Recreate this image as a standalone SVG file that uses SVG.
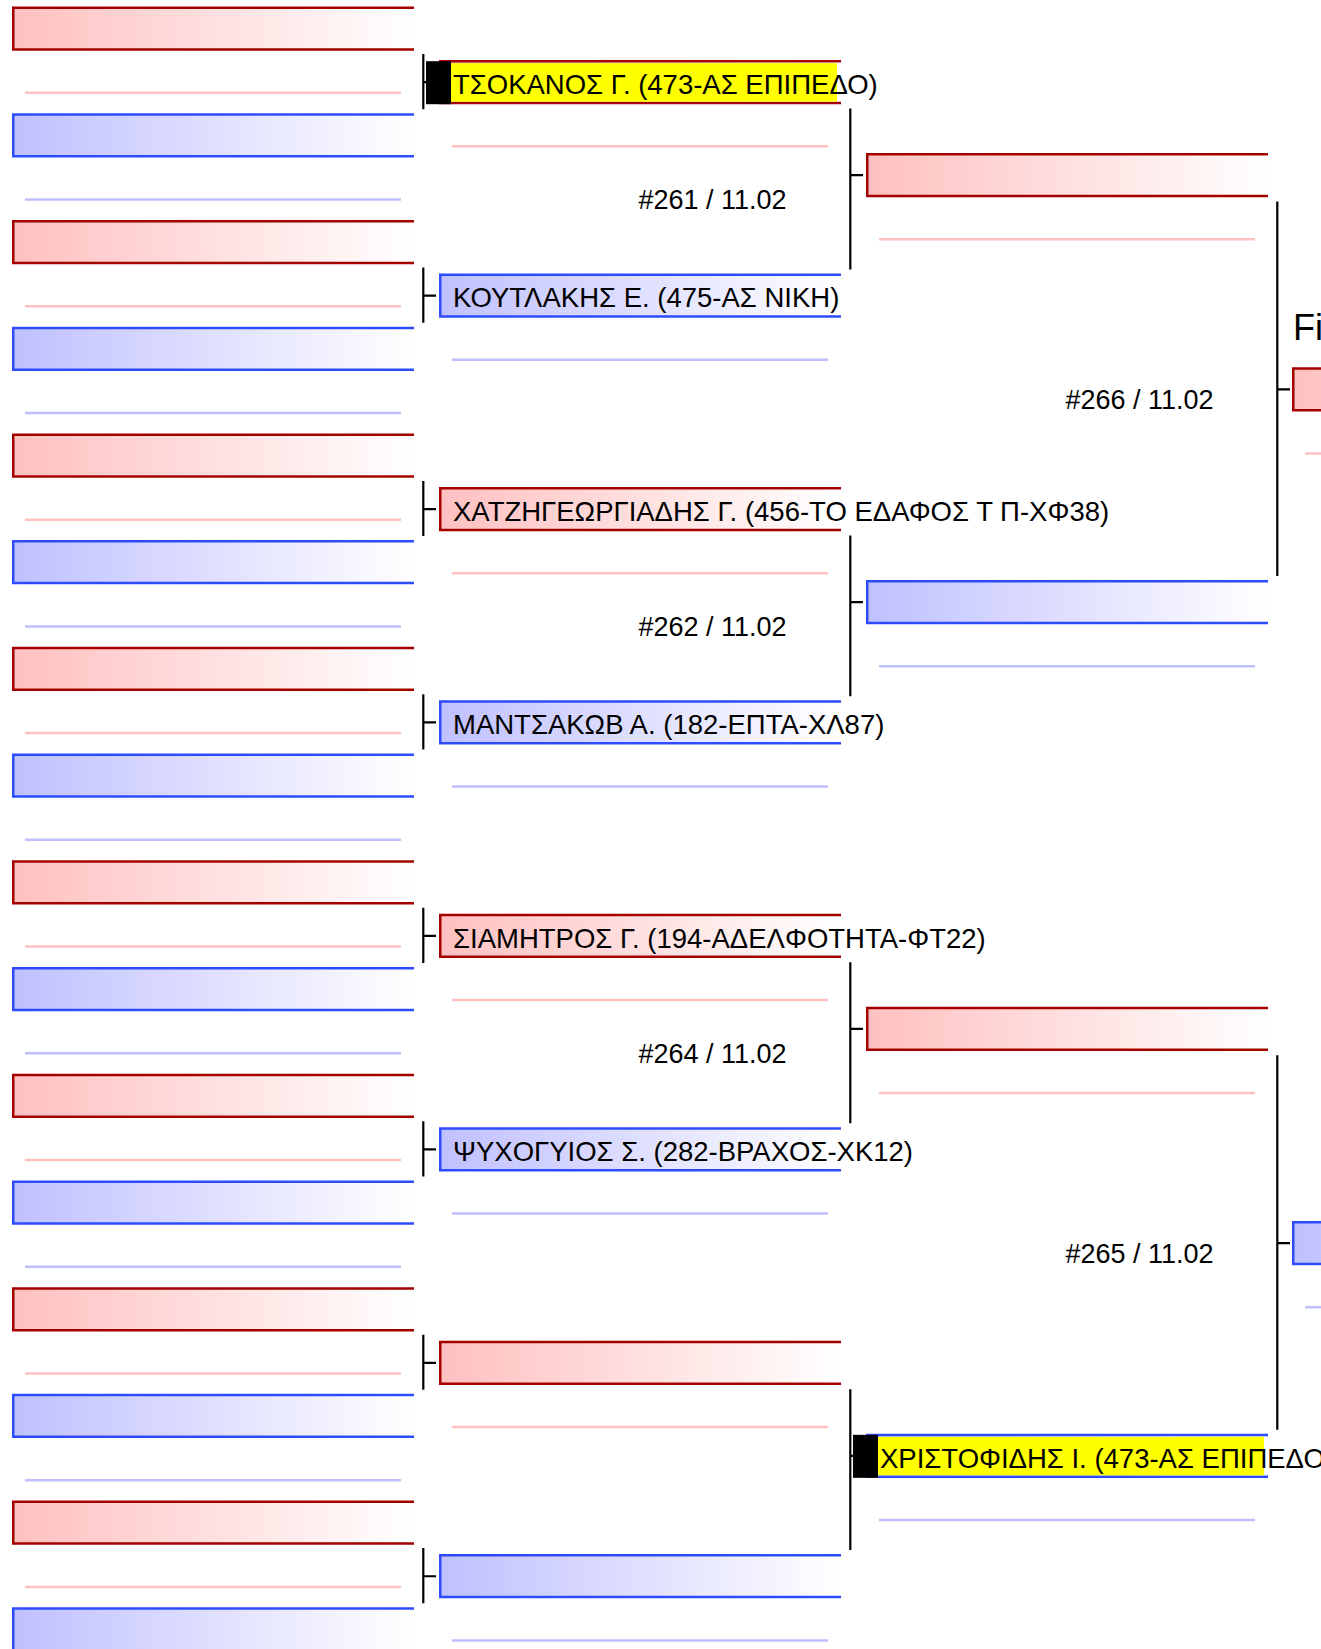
<svg xmlns="http://www.w3.org/2000/svg" xmlns:xlink="http://www.w3.org/1999/xlink" width="1321" height="1649" viewBox="0 0 1321 1649">
<defs>
<linearGradient id="gr" x1="0" y1="0" x2="1" y2="0"><stop offset="0" stop-color="#ffc0c0"/><stop offset="1" stop-color="#ffffff"/></linearGradient>
<linearGradient id="gb" x1="0" y1="0" x2="1" y2="0"><stop offset="0" stop-color="#c0c0ff"/><stop offset="1" stop-color="#ffffff"/></linearGradient>
</defs>
<style>
.r{fill:url(#gr);stroke:#a40000;stroke-width:2.5}
.b{fill:url(#gb);stroke:#2e4cff;stroke-width:2.5}
.lr{stroke:#ffc0c0;stroke-width:2.5}
.lb{stroke:#c0c0ff;stroke-width:2.5}
.t{font-family:"Liberation Sans",Arial,sans-serif;font-size:27.5px;fill:#000}
.lbl{font-family:"Liberation Sans",Arial,sans-serif;font-size:27px;fill:#000}
.c{stroke:#000;stroke-width:2.2;fill:none}
.y{fill:#ffff00}
.k{fill:#000}
</style>
<rect width="1321" height="1649" fill="#fff"/>
<g id="connectors">
<path class="c" d="M423.3,54V109.22M423.3,82.15H436M423.3,267.44V322.66M423.3,295.59H436M423.3,480.88V536.1M423.3,509.03H436M423.3,694.32V749.54M423.3,722.47H436M423.3,907.76V962.98M423.3,935.91H436M423.3,1121.2V1176.42M423.3,1149.35H436M423.3,1334.64V1389.86M423.3,1362.79H436M423.3,1548.08V1603.3M423.3,1576.23H436"/>
<path class="c" d="M850.3,108.5V269.44M850.3,175.15H863M850.3,535.38V696.32M850.3,602.03H863M850.3,962.26V1123.2M850.3,1028.91H863M850.3,1389.14V1550.08M850.3,1455.79H863"/>
<path class="c" d="M1277.3,201.5V575.88M1277.3,389.45H1290M1277.3,1055.26V1429.64M1277.3,1243.21H1290"/>
<text class="lbl" x="638.5" y="209.3">#261 / 11.02</text>
<text class="lbl" x="638.5" y="636.2">#262 / 11.02</text>
<text class="lbl" x="638.5" y="1063">#264 / 11.02</text>
<text class="lbl" x="1065.5" y="409.3">#266 / 11.02</text>
<text class="lbl" x="1065.5" y="1263.1">#265 / 11.02</text>
</g>
<!-- column 1 -->
<g id="r1-0" transform="translate(12,6.5)"><path class="r" d="M402,1.25H1.25V43H402"/><line class="lr" x1="13" y1="86.3" x2="389" y2="86.3"/></g>
<g id="r1-1" transform="translate(12,113.22)"><path class="b" d="M402,1.25H1.25V43H402"/><line class="lb" x1="13" y1="86.3" x2="389" y2="86.3"/></g>
<g id="r1-2" transform="translate(12,219.94)"><path class="r" d="M402,1.25H1.25V43H402"/><line class="lr" x1="13" y1="86.3" x2="389" y2="86.3"/></g>
<g id="r1-3" transform="translate(12,326.66)"><path class="b" d="M402,1.25H1.25V43H402"/><line class="lb" x1="13" y1="86.3" x2="389" y2="86.3"/></g>
<g id="r1-4" transform="translate(12,433.38)"><path class="r" d="M402,1.25H1.25V43H402"/><line class="lr" x1="13" y1="86.3" x2="389" y2="86.3"/></g>
<g id="r1-5" transform="translate(12,540.1)"><path class="b" d="M402,1.25H1.25V43H402"/><line class="lb" x1="13" y1="86.3" x2="389" y2="86.3"/></g>
<g id="r1-6" transform="translate(12,646.82)"><path class="r" d="M402,1.25H1.25V43H402"/><line class="lr" x1="13" y1="86.3" x2="389" y2="86.3"/></g>
<g id="r1-7" transform="translate(12,753.54)"><path class="b" d="M402,1.25H1.25V43H402"/><line class="lb" x1="13" y1="86.3" x2="389" y2="86.3"/></g>
<g id="r1-8" transform="translate(12,860.26)"><path class="r" d="M402,1.25H1.25V43H402"/><line class="lr" x1="13" y1="86.3" x2="389" y2="86.3"/></g>
<g id="r1-9" transform="translate(12,966.98)"><path class="b" d="M402,1.25H1.25V43H402"/><line class="lb" x1="13" y1="86.3" x2="389" y2="86.3"/></g>
<g id="r1-10" transform="translate(12,1073.7)"><path class="r" d="M402,1.25H1.25V43H402"/><line class="lr" x1="13" y1="86.3" x2="389" y2="86.3"/></g>
<g id="r1-11" transform="translate(12,1180.42)"><path class="b" d="M402,1.25H1.25V43H402"/><line class="lb" x1="13" y1="86.3" x2="389" y2="86.3"/></g>
<g id="r1-12" transform="translate(12,1287.14)"><path class="r" d="M402,1.25H1.25V43H402"/><line class="lr" x1="13" y1="86.3" x2="389" y2="86.3"/></g>
<g id="r1-13" transform="translate(12,1393.86)"><path class="b" d="M402,1.25H1.25V43H402"/><line class="lb" x1="13" y1="86.3" x2="389" y2="86.3"/></g>
<g id="r1-14" transform="translate(12,1500.58)"><path class="r" d="M402,1.25H1.25V43H402"/><line class="lr" x1="13" y1="86.3" x2="389" y2="86.3"/></g>
<g id="r1-15" transform="translate(12,1607.3)"><path class="b" d="M402,1.25H1.25V43H402"/><line class="lb" x1="13" y1="86.3" x2="389" y2="86.3"/></g>
<!-- column 2 -->
<g id="r2-0" transform="translate(439,60)"><path class="r" d="M402,1.25H1.25V43H402"/><line class="lr" x1="13" y1="86.3" x2="389" y2="86.3"/><rect class="y" x="12" y="3.2" width="386" height="38.5"/><rect class="k" x="-13" y="1.2" width="25" height="43"/><text class="t" x="14" y="34">ΤΣΟΚΑΝΟΣ Γ. (473-ΑΣ ΕΠΙΠΕΔΟ)</text></g>
<g id="r2-1" transform="translate(439,273.44)"><path class="b" d="M402,1.25H1.25V43H402"/><line class="lb" x1="13" y1="86.3" x2="389" y2="86.3"/><text class="t" x="14" y="34">ΚΟΥΤΛΑΚΗΣ Ε. (475-ΑΣ ΝΙΚΗ)</text></g>
<g id="r2-2" transform="translate(439,486.88)"><path class="r" d="M402,1.25H1.25V43H402"/><line class="lr" x1="13" y1="86.3" x2="389" y2="86.3"/><text class="t" x="14" y="34">ΧΑΤΖΗΓΕΩΡΓΙΑΔΗΣ Γ. (456-ΤΟ ΕΔΑΦΟΣ Τ Π-ΧΦ38)</text></g>
<g id="r2-3" transform="translate(439,700.32)"><path class="b" d="M402,1.25H1.25V43H402"/><line class="lb" x1="13" y1="86.3" x2="389" y2="86.3"/><text class="t" x="14" y="34">ΜΑΝΤΣΑΚΩΒ Α. (182-ΕΠΤΑ-ΧΛ87)</text></g>
<g id="r2-4" transform="translate(439,913.76)"><path class="r" d="M402,1.25H1.25V43H402"/><line class="lr" x1="13" y1="86.3" x2="389" y2="86.3"/><text class="t" x="14" y="34">ΣΙΑΜΗΤΡΟΣ Γ. (194-ΑΔΕΛΦΟΤΗΤΑ-ΦΤ22)</text></g>
<g id="r2-5" transform="translate(439,1127.2)"><path class="b" d="M402,1.25H1.25V43H402"/><line class="lb" x1="13" y1="86.3" x2="389" y2="86.3"/><text class="t" x="14" y="34">ΨΥΧΟΓΥΙΟΣ Σ. (282-ΒΡΑΧΟΣ-ΧΚ12)</text></g>
<g id="r2-6" transform="translate(439,1340.64)"><path class="r" d="M402,1.25H1.25V43H402"/><line class="lr" x1="13" y1="86.3" x2="389" y2="86.3"/></g>
<g id="r2-7" transform="translate(439,1554.08)"><path class="b" d="M402,1.25H1.25V43H402"/><line class="lb" x1="13" y1="86.3" x2="389" y2="86.3"/></g>
<!-- column 3 -->
<g id="r3-0" transform="translate(866,153)"><path class="r" d="M402,1.25H1.25V43H402"/><line class="lr" x1="13" y1="86.3" x2="389" y2="86.3"/></g>
<g id="r3-1" transform="translate(866,579.88)"><path class="b" d="M402,1.25H1.25V43H402"/><line class="lb" x1="13" y1="86.3" x2="389" y2="86.3"/></g>
<g id="r3-2" transform="translate(866,1006.76)"><path class="r" d="M402,1.25H1.25V43H402"/><line class="lr" x1="13" y1="86.3" x2="389" y2="86.3"/></g>
<g id="r3-3" transform="translate(866,1433.64)"><path class="b" d="M402,1.25H1.25V43H402"/><line class="lb" x1="13" y1="86.3" x2="389" y2="86.3"/><rect class="y" x="12" y="3.2" width="386" height="38.5"/><rect class="k" x="-13" y="1.2" width="25" height="43"/><text class="t" x="14" y="34">ΧΡΙΣΤΟΦΙΔΗΣ Ι. (473-ΑΣ ΕΠΙΠΕΔΟ)</text></g>
<!-- column 4 -->
<g id="r4-0" transform="translate(1292,367.3)"><path class="r" d="M402,1.25H1.25V43H402"/><line class="lr" x1="13" y1="86.3" x2="389" y2="86.3"/></g>
<g id="r4-1" transform="translate(1292,1221.06)"><path class="b" d="M402,1.25H1.25V43H402"/><line class="lb" x1="13" y1="86.3" x2="389" y2="86.3"/></g>
<text id="title" x="1293" y="339.5" font-family="'Liberation Sans',Arial,sans-serif" font-size="36">Fi</text>
</svg>
